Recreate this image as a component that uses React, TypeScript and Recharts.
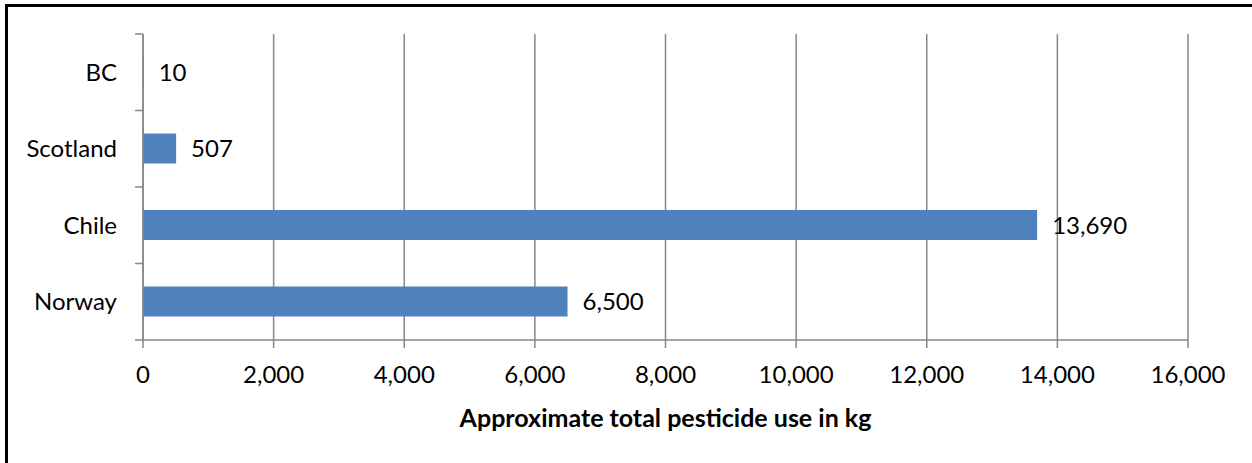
import React from 'react';
import { BarChart, Bar, XAxis, YAxis, CartesianGrid, LabelList } from 'recharts';

const categories = ['BC', 'Scotland', 'Chile', 'Norway'];
const usageKg = [10, 507, 13690, 6500];
const xTicks = [0, 2000, 4000, 6000, 8000, 10000, 12000, 14000, 16000];
const axisTitle = 'Approximate total pesticide use in kg';

const data = categories.map((c, i) => ({ country: c, kg: usageKg[i] }));
const fmt = (v: number) => Number(v).toLocaleString('en-US');

const W = 1252;
const H = 463;
const MARGIN = { top: 34, right: 64, bottom: 0, left: 0 };
const X_AXIS_H = 123;
const Y_AXIS_W = 143;
const TICK = 8;
const TICK_MARGIN = 18;
const GRAY = '#878787';
const FONT = 'Lato, "Open Sans", sans-serif';
const FS = 24;
const TITLE_FS = 25;

const plotH = H - MARGIN.top - X_AXIS_H;

const YTick = (props: any) => {
  const { x, y, payload, index, visibleTicksCount } = props;
  const half = payload && payload.offset > 0 ? payload.offset : plotH / categories.length / 2;
  const ax = x + TICK + TICK_MARGIN;
  const last = index === (visibleTicksCount ?? categories.length) - 1;
  return (
    <g>
      <line x1={ax - TICK} x2={ax} y1={y - half} y2={y - half} stroke={GRAY} strokeWidth={1.5} />
      {last && <line x1={ax - TICK} x2={ax} y1={y + half} y2={y + half} stroke={GRAY} strokeWidth={1.5} />}
      <text x={x} y={y} dy="0.355em" textAnchor="end" fill="#000" fontFamily={FONT} fontSize={FS}>
        {payload.value}
      </text>
    </g>
  );
};

const XTitle = (props: any) => {
  const vb = props.viewBox || {};
  return (
    <text
      x={vb.x + vb.width / 2}
      y={vb.y + 87}
      textAnchor="middle"
      fontFamily={FONT}
      fontSize={TITLE_FS}
      fontWeight="bold"
      fill="#000"
    >
      {axisTitle}
    </text>
  );
};

export default function App() {
  return (
    <div style={{ position: 'absolute', left: 0, top: 0, width: W, height: H, overflow: 'hidden', background: '#fff' }}>
      <div
        style={{
          position: 'absolute',
          left: 5,
          top: 4,
          width: W + 50,
          height: H + 50,
          borderTop: '3px solid #000',
          borderLeft: '3px solid #000',
        }}
      />
      <div style={{ position: 'absolute', left: 0, top: 0 }}>
        <BarChart width={W} height={H} data={data} layout="vertical" margin={MARGIN} barSize={30}>
          <CartesianGrid horizontal={false} stroke={GRAY} strokeWidth={1.5} />
          <XAxis
            type="number"
            domain={[0, 16000]}
            ticks={xTicks}
            tickFormatter={fmt}
            height={X_AXIS_H}
            interval={0}
            tickSize={TICK}
            tickMargin={TICK_MARGIN}
            axisLine={{ stroke: GRAY, strokeWidth: 1.5 }}
            tickLine={{ stroke: GRAY, strokeWidth: 1.5 }}
            tick={{ fill: '#000', fontFamily: FONT, fontSize: FS }}
            label={<XTitle />}
          />
          <YAxis
            type="category"
            dataKey="country"
            width={Y_AXIS_W}
            tickSize={TICK}
            tickMargin={TICK_MARGIN}
            tickLine={false}
            interval={0}
            axisLine={{ stroke: GRAY, strokeWidth: 1.5 }}
            tick={<YTick />}
          />
          <Bar dataKey="kg" fill="#4F81BD" isAnimationActive={false}>
            <LabelList
              dataKey="kg"
              position="right"
              offset={15}
              formatter={(v: any) => fmt(v)}
              style={{ fill: '#000', fontFamily: FONT, fontSize: FS }}
            />
          </Bar>
        </BarChart>
      </div>
    </div>
  );
}
